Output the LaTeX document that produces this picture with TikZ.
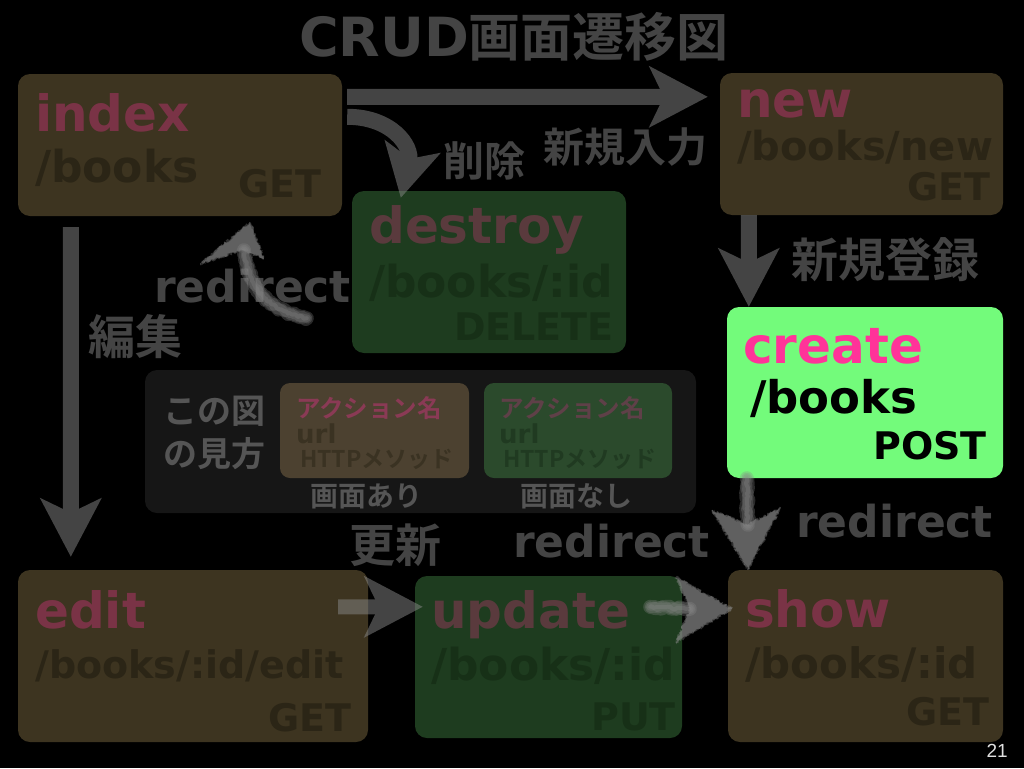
\documentclass[tikz,border=0pt]{standalone}
\usepackage{fontspec}
\setmainfont{DejaVu Sans}
\newfontfamily\jp{Noto Sans CJK JP Bold}
\newfontfamily\num{Liberation Sans}
\usetikzlibrary{arrows.meta, positioning, calc, decorations.pathmorphing}

\definecolor{crud_brown}{HTML}{3D3420}
\definecolor{crud_green}{HTML}{1E3C1F}
\definecolor{crud_name}{HTML}{7A3346}
\definecolor{crud_gname}{HTML}{5A3A3D}
\definecolor{crud_path}{HTML}{2B2516}
\definecolor{crud_gpath}{HTML}{173017}
\definecolor{crud_gray}{HTML}{444444}
\definecolor{crud_arrow}{HTML}{888888}
\definecolor{crud_panel}{HTML}{161616}
\definecolor{crud_lbrown}{HTML}{4C4130}
\definecolor{crud_lgreen}{HTML}{2B4A2C}
\definecolor{crud_lname}{HTML}{8A3A55}
\definecolor{crud_lgname}{HTML}{5F4048}
\definecolor{crud_lpath}{HTML}{3A3222}
\definecolor{crud_lgpath}{HTML}{203A21}
\definecolor{crud_legtext}{HTML}{555555}
\definecolor{crud_create}{HTML}{73FB7B}
\definecolor{crud_pink}{HTML}{FF3399}

\newcommand{\sz}[1]{\fontsize{#1pt}{#1pt}\selectfont}

\tikzset{
  box/.style={rounded corners=12pt, inner sep=0pt, draw=none},
  brownbox/.style={box, fill=crud_brown},
  greenbox/.style={box, fill=crud_green},
  txt/.style={inner sep=0pt},
  actname/.style={txt, anchor=base west, font=\bfseries\sz{50}},
  urlpath/.style={txt, anchor=base west, font=\bfseries\sz{#1}},
  method/.style={txt, anchor=base east, font=\bfseries\sz{38}},
  jlabel/.style={txt, text=crud_gray, font=\jp\sz{#1}},
  elabel/.style={txt, anchor=base west, text=crud_gray, font=\bfseries\sz{44}},
  blk/.style={draw=crud_arrow, line width=16pt, -{Stealth[length=58pt, width=60pt, inset=14pt]}},
  chalk/.style={draw=crud_arrow, line width=#1, opacity=0.3, line cap=round, line join=round,
    decorate, decoration={random steps, segment length=2pt, amplitude=1.3pt}},
  chalkhead/.style={fill=crud_arrow, opacity=0.34,
    decorate, decoration={random steps, segment length=1.5pt, amplitude=1.8pt}}
}

\begin{document}
\begin{tikzpicture}[x=1pt, y=-1pt]
  % background
  \fill[black] (0,0) rectangle (1024,768);
  \useasboundingbox (0,0) rectangle (1024,768);

  % title
  \node[txt, text=crud_gray] (title) at (514,37) {{\bfseries\sz{54}CRUD}{\jp\sz{52}画面遷移図}};

  % screens
  \node[brownbox, minimum width=324pt, minimum height=142pt] (index) at (180,145) {};
  \node[brownbox, minimum width=283pt, minimum height=142pt] (new) at (861.5,144) {};
  \node[greenbox, minimum width=274pt, minimum height=162pt] (destroy) at (489,272) {};
  \node[box, fill=crud_create, minimum width=276pt, minimum height=171pt] (create) at (865,392.5) {};
  \node[brownbox, minimum width=350pt, minimum height=172pt] (edit) at (193,656) {};
  \node[greenbox, minimum width=267pt, minimum height=162pt] (update) at (548.5,657) {};
  \node[brownbox, minimum width=275pt, minimum height=172pt] (show) at (865.5,656) {};

  % index
  \node[actname, text=crud_name] at (35,131) {index};
  \node[urlpath=44, text=crud_path] at (35,182) {/books};
  \node[method, text=crud_path] at (322,197) {GET};
  % new
  \node[actname, text=crud_name] at (737,117) {new};
  \node[urlpath=40, text=crud_path] at (737,160) {/books/new};
  \node[method, text=crud_path] at (991,200) {GET};
  % destroy
  \node[actname, text=crud_gname] at (369,243) {destroy};
  \node[urlpath=44, text=crud_gpath] at (369,297) {/books/:id};
  \node[method, text=crud_gpath] at (614,340) {DELETE};
  % create
  \node[actname, text=crud_pink] at (743,363) {create};
  \node[urlpath=45, text=black] at (750,413) {/books};
  \node[method, text=black] at (987,459) {POST};
  % edit
  \node[actname, text=crud_name] at (35,628) {edit};
  \node[urlpath=38, text=crud_path] at (35,678) {/books/:id/edit};
  \node[method, text=crud_path] at (352,731) {GET};
  % update
  \node[actname, text=crud_gname] at (431,628) {update};
  \node[urlpath=44, text=crud_gpath] at (431,680) {/books/:id};
  \node[method, text=crud_gpath] at (676,730) {PUT};
  % show
  \node[actname, text=crud_name] at (745,627) {show};
  \node[urlpath=42, text=crud_path] at (745,678) {/books/:id};
  \node[method, text=crud_path] at (990,725) {GET};

  % legend
  \node[box, fill=crud_panel, minimum width=551pt, minimum height=143pt] (legend) at (420.5,441.5) {};
  \node[box, rounded corners=10pt, fill=crud_lbrown, minimum width=189pt, minimum height=95pt] (legA) at (374.5,430.5) {};
  \node[box, rounded corners=10pt, fill=crud_lgreen, minimum width=188pt, minimum height=95pt] (legB) at (578,430.5) {};
  \node[jlabel=34, text=crud_legtext] at (214,411) {この図};
  \node[jlabel=34, text=crud_legtext] at (214,454) {の見方};
  \node[txt, anchor=west, font=\jp\sz{24.5}, text=crud_lname] at (296,408) {アクション名};
  \node[txt, anchor=base west, font=\bfseries\sz{26}, text=crud_lpath] at (296,443) {url};
  \node[txt, anchor=west, font=\jp\sz{23}, text=crud_lpath] at (300,459) {HTTPメソッド};
  \node[txt, anchor=west, font=\jp\sz{24.5}, text=crud_lgname] at (499,408) {アクション名};
  \node[txt, anchor=base west, font=\bfseries\sz{26}, text=crud_lgpath] at (499,443) {url};
  \node[txt, anchor=west, font=\jp\sz{23}, text=crud_lgpath] at (503,459) {HTTPメソッド};
  \node[jlabel=28, text=crud_legtext] at (366,496) {画面あり};
  \node[jlabel=28, text=crud_legtext] at (576,496) {画面なし};

  % labels
  \node[jlabel=41] at (484,161) {削除};
  \node[jlabel=41] at (625,147) {新規入力};
  \node[jlabel=47] at (885,260) {新規登録};
  \node[jlabel=47] at (135,337) {編集};
  \node[jlabel=46] at (395,545) {更新};
  \node[elabel] at (154,302) {redirect};
  \node[elabel] at (513,557) {redirect};
  \node[elabel] at (796,537) {redirect};

  % block arrows
  \coordinate (a1s) at ($(index.north east)+(5,23)$);
  \coordinate (a1e) at ($(new.west |- a1s)+(-12,0)$);
  \coordinate (a2s) at ($(index.north east)+(5,43)$);
  \coordinate (a2e) at ($(destroy.north west)+(49,7)$);
  \coordinate (a3s) at ($(new.south west)+(29,0)$);
  \coordinate (a4s) at ($(index.south west)+(53,11)$);
  \coordinate (a4e) at ($(a4s |- edit.north)+(0,-13)$);
  \coordinate (a5s) at ($(edit.north east)+(-30,37)$);
  \coordinate (a5e) at ($(update.west |- a5s)+(8,0)$);
  \begin{scope}[transparency group, opacity=0.5]
    \draw[blk] (a1s) -- (a1e);
    \draw[blk, -{Stealth[length=52pt, width=56pt, inset=12pt]}] (a2s) .. controls +(44,0) and +(12,-52) .. (a2e);
    \draw[blk] (a3s) -- (a3s |- create.north);
    \draw[blk] (a4s) -- (a4e);
    \draw[blk, line width=15pt] (a5s) -- (a5e);
  \end{scope}

  % chalk arrows
  \coordinate (c1s) at ($(update.north east)+(-32,31)$);
  \coordinate (c1t) at ($(show.west |- c1s)+(4,2)$);
  \coordinate (c2s) at ($(create.south west)+(20,0)$);
  \coordinate (c2t) at ($(c2s |- show.north)+(1,0)$);
  \coordinate (c3s) at ($(destroy.south west)+(-45,-35)$);
  \coordinate (c3t) at ($(index.south)+(70,6)$);
  \foreach \w in {14,11,8,4} {
    \draw[chalk=\w pt] (c1s) -- ($(c1t)+(-42,0)$);
    \draw[chalk=\w pt] (c2s) -- ($(c2t)+(0,-45)$);
    \draw[chalk=\w pt] (c3s) .. controls +(-37,-8) and +(6,42) .. ($(c3t)+(-6,28)$);
  }
  \foreach \k in {1,2,3} {
    \fill[chalkhead] (c1t) -- ($(c1t)+(-56,-32)$) -- ($(c1t)+(-42,0)$) -- ($(c1t)+(-56,34)$) -- cycle;
    \fill[chalkhead] (c2t) -- ($(c2t)+(-36,-60)$) -- ($(c2t)+(0,-45)$) -- ($(c2t)+(33,-62)$) -- cycle;
    \fill[chalkhead] (c3t) -- ($(c3t)+(-50,42)$) -- ($(c3t)+(-8,28)$) -- ($(c3t)+(14,36)$) -- cycle;
  }

  % page number
  \node[txt, anchor=base east, text=white!88!black, font=\num\sz{19}] (page) at (1008,757) {21};
\end{tikzpicture}
\end{document}
